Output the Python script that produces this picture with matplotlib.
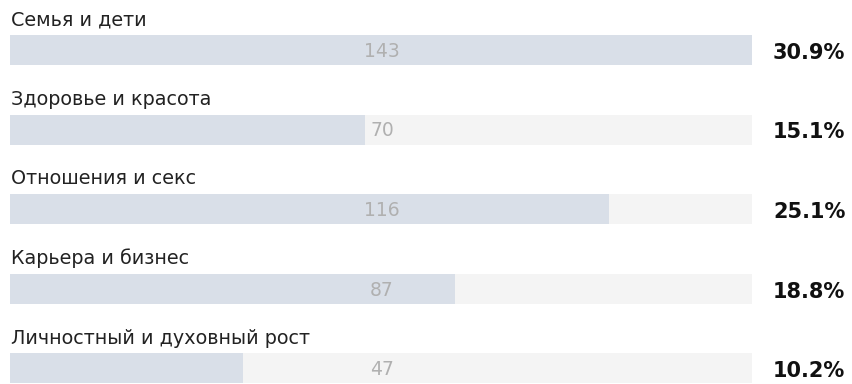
import matplotlib
matplotlib.use("Agg")
from matplotlib import pyplot as plt

categories = ["Семья и дети", "Здоровье и красота", "Отношения и секс",
              "Карьера и бизнес", "Личностный и духовный рост"]
votes = [143, 70, 116, 87, 47]

total = sum(votes)
percents = ["%.1f%%" % (v * 100.0 / total) for v in votes]

W, H = 853, 384
fig = plt.figure(figsize=(W / 100, H / 100), dpi=100)
fig.patch.set_facecolor("white")

# bars live between pixel 10 and 752, rows spaced ~79.5px, first bar center at 50px
row_px = 79.5
first_px = 50
ax = fig.add_axes([10 / W, 0, (752 - 10) / W, 1])
ax.set_xlim(3.13, max(votes))
ax.set_ylim((H - first_px) / row_px, -first_px / row_px)
ax.axis("off")

rows = list(range(len(categories)))
bar_h = 30 / row_px
ax.barh(rows, [max(votes)] * len(rows), height=bar_h, color="#f4f4f4", left=0)
ax.barh(rows, votes, height=bar_h, color="#d9dfe8", left=0)

for i in rows:
    ax.annotate(categories[i], xy=(0, i), xycoords=("axes fraction", "data"),
                xytext=(1, 30 * 0.72), textcoords="offset points",
                ha="left", va="center", fontsize=13.8, color="#222222")
    ax.annotate(str(votes[i]), xy=(0.5, i), xycoords=("axes fraction", "data"),
                xytext=(1 * 0.72, -1.5 * 0.72), textcoords="offset points",
                ha="center", va="center", fontsize=13.5, color="#b0b0b0")
    ax.annotate(percents[i], xy=(1, i), xycoords=("axes fraction", "data"),
                xytext=(21 * 0.72, -3 * 0.72), textcoords="offset points",
                ha="left", va="center", fontsize=15, fontweight="bold",
                color="#111111", annotation_clip=False)

fig.savefig("out.png", dpi=100)
